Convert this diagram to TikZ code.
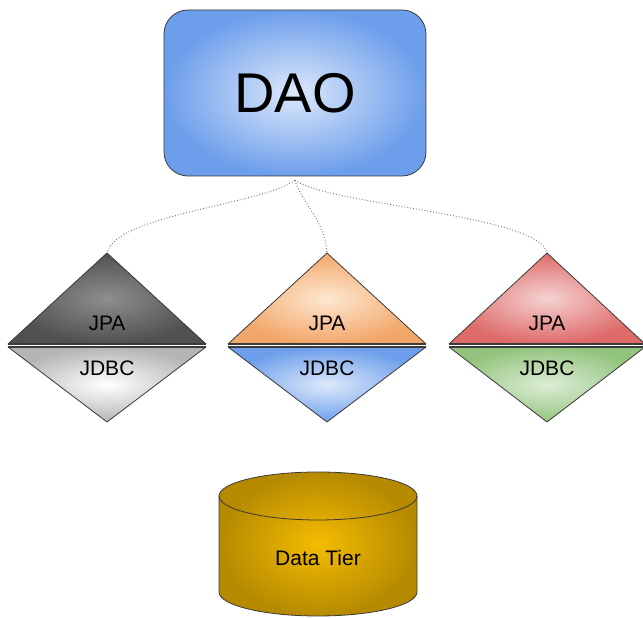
\documentclass[tikz,border=0pt]{standalone}
\usepackage{fontspec}
\setmainfont{Liberation Sans}
\usetikzlibrary{calc}
\definecolor{edge}{HTML}{3A3A3A}
\definecolor{daoIn}{HTML}{DDE9FB}
\definecolor{daoOut}{HTML}{6D9EEB}
\definecolor{grayTopIn}{HTML}{8E8E8E}
\definecolor{grayTopOut}{HTML}{505050}
\definecolor{grayBotIn}{HTML}{FFFFFF}
\definecolor{grayBotOut}{HTML}{B5B5B5}
\definecolor{orIn}{HTML}{FDE7D0}
\definecolor{orOut}{HTML}{F2A76A}
\definecolor{blIn}{HTML}{DDE9FB}
\definecolor{blOut}{HTML}{6D9EEB}
\definecolor{rdIn}{HTML}{F6D2D2}
\definecolor{rdOut}{HTML}{DE6A6A}
\definecolor{grIn}{HTML}{DCEDD6}
\definecolor{grOut}{HTML}{93C47D}
\definecolor{goldIn}{HTML}{F4BC00}
\definecolor{goldOut}{HTML}{B58A00}
\definecolor{dotc}{HTML}{707070}
\tikzset{
  shapeline/.style={draw=edge, line width=0.8pt, line join=round},
  baseline/.style={draw=edge, line width=1.6pt},
  conn/.style={draw=dotc, line width=0.9pt, dotted},
  lbl/.style={font=\fontsize{21}{24}\selectfont, inner sep=0pt},
}
\begin{document}
\begin{tikzpicture}[x=1pt,y=1pt]
\useasboundingbox (0,0) rectangle (643,618);
% DAO box
\node[shapeline, rounded corners=24pt, inner color=daoIn, outer color=daoOut,
      minimum width=262pt, minimum height=166pt, inner sep=0pt,
      font=\fontsize{56}{60}\selectfont] (dao) at (295,525) {DAO};
% diamonds: apex coordinates
\coordinate (t1) at (107,365);
\coordinate (t2) at (327,365);
\coordinate (t3) at (547,365);
% left diamond
\shade[shapeline, inner color=grayTopIn, outer color=grayTopOut] (8,274) -- (t1) -- (206,274) -- cycle;
\shade[shapeline, inner color=grayBotIn, outer color=grayBotOut] (8,271) -- (206,271) -- (107,196) -- cycle;
\draw[baseline] (8,274) -- (206,274);
\draw[baseline] (8,271) -- (206,271);
% center diamond
\shade[shapeline, inner color=orIn, outer color=orOut] (228,274) -- (t2) -- (426,274) -- cycle;
\shade[shapeline, inner color=blIn, outer color=blOut] (228,271) -- (426,271) -- (327,196) -- cycle;
\draw[baseline] (228,274) -- (426,274);
\draw[baseline] (228,271) -- (426,271);
% right diamond
\shade[shapeline, inner color=rdIn, outer color=rdOut] (449,274) -- (t3) -- (645,274) -- cycle;
\shade[shapeline, inner color=grIn, outer color=grOut] (449,271) -- (645,271) -- (547,196) -- cycle;
\draw[baseline] (449,274) -- (645,274);
\draw[baseline] (449,271) -- (645,271);
% labels
\node[lbl] (jpa1) at (107,295) {JPA};
\node[lbl] (jdbc1) at (107,250) {JDBC};
\node[lbl] (jpa2) at (327,295) {JPA};
\node[lbl] (jdbc2) at (327,250) {JDBC};
\node[lbl] (jpa3) at (547,295) {JPA};
\node[lbl] (jdbc3) at (547,250) {JDBC};
% connectors
\coordinate (src) at ($(dao.south)+(0,-4)$);
\draw[conn] (src) .. controls (260,413) and (115,403) .. (t1);
\draw[conn] (src) .. controls (300,418) and (325,398) .. (t2);
\draw[conn] (src) .. controls (330,413) and (540,403) .. (t3);
% cylinder
\shade[shapeline, inner color=goldIn, outer color=goldOut]
  (219,122) -- (219,26) arc[start angle=180, end angle=360, x radius=99, y radius=24]
  -- (417,122) arc[start angle=0, end angle=180, x radius=99, y radius=24] -- cycle;
\draw[shapeline] (219,122) arc[start angle=180, end angle=360, x radius=99, y radius=24];
\node[lbl] (data) at (318,60) {Data Tier};
\end{tikzpicture}
\end{document}
